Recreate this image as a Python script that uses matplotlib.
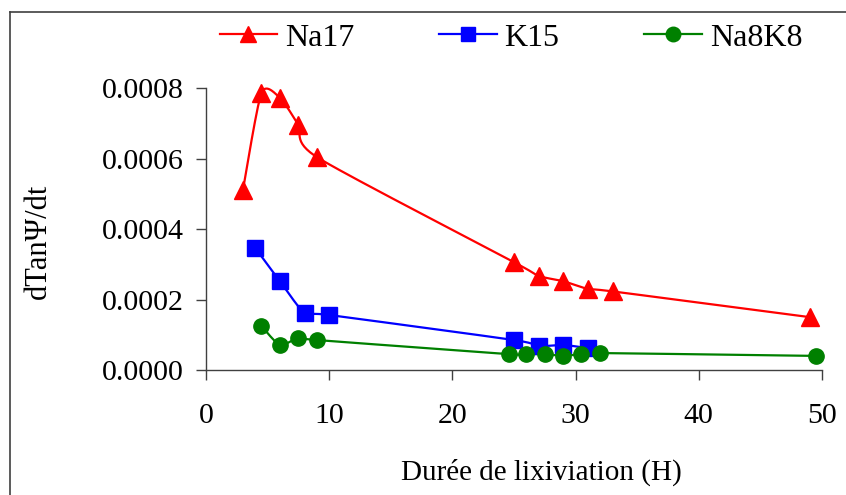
import numpy as np
import matplotlib
matplotlib.use("Agg")
import matplotlib.pyplot as plt
from matplotlib.lines import Line2D
from matplotlib.ticker import FormatStrFormatter

# values
na17_t = [3, 4.5, 6, 7.5, 9, 25, 27, 29, 31, 33, 49]
na17_v = [0.000511, 0.000786, 0.000772, 0.000695, 0.000604, 0.000306,
          0.000267, 0.000252, 0.000230, 0.000223, 0.000150]

k15_t = [4, 6, 8, 10, 25, 27, 29, 31]
k15_v = [0.000346, 0.000252, 0.000162, 0.000156, 0.000085, 0.000068,
         0.000071, 0.000062]

na8k8_t = [4.5, 6, 7.5, 9, 24.6, 26, 27.5, 29, 30.4, 32, 49.5]
na8k8_v = [0.000125, 0.000071, 0.000091, 0.000085, 0.000045, 0.000045,
           0.000045, 0.000040, 0.000045, 0.000048, 0.000040]

x_ticks = [0, 10, 20, 30, 40, 50]
y_ticks = [0.0, 0.0002, 0.0004, 0.0006, 0.0008]


def smooth(xs, ys, n=30, tension=0.3):
    """Cardinal spline through the points (like an Excel smoothed line)."""
    pts = np.column_stack([xs, ys]).astype(float)
    scale = np.array([1.0, 50.0 / 0.0008])  # work in roughly square units
    p = pts * scale
    p = np.vstack([p[0], p, p[-1]])
    t = np.linspace(0, 1, n)[:, None]
    h00 = 2 * t ** 3 - 3 * t ** 2 + 1
    h10 = t ** 3 - 2 * t ** 2 + t
    h01 = -2 * t ** 3 + 3 * t ** 2
    h11 = t ** 3 - t ** 2
    out = []
    for i in range(1, len(p) - 2):
        m1 = (1 - tension) * (p[i + 1] - p[i - 1]) / 2
        m2 = (1 - tension) * (p[i + 2] - p[i]) / 2
        out.append(h00 * p[i] + h10 * m1 + h01 * p[i + 1] + h11 * m2)
    c = np.vstack(out) / scale
    return c[:, 0], c[:, 1]


plt.rcParams['font.family'] = ['Liberation Serif', 'DejaVu Serif']
plt.rcParams['font.size'] = 21

fig = plt.figure(figsize=(8.46, 4.95), dpi=100)
ax = fig.add_axes([206 / 846, 1 - 370 / 495, (822 - 206) / 846, (370 - 88) / 495])

series = [
    (na17_t, na17_v, '#FF0000', '^', 12.5, 'Na17'),
    (k15_t, k15_v, '#0000FF', 's', 11, 'K15'),
    (na8k8_t, na8k8_v, '#008000', 'o', 11, 'Na8K8'),
]
handles = []
for t, v, col, mk, ms, name in series:
    sx, sy = smooth(t, v)
    ax.plot(sx, sy, color=col, lw=1.6, clip_on=False, zorder=2)
    ax.plot(t, v, linestyle='none', marker=mk, ms=ms, color=col,
            mec=col, clip_on=False, zorder=3)
    handles.append(Line2D([], [], color=col, lw=1.6, marker=mk, ms=ms * 0.95,
                          mec=col, label=name))

ax.set_xlim(0, 50)
ax.set_ylim(0, 0.0008)
ax.set_xticks(x_ticks)
ax.set_yticks(y_ticks)
ax.yaxis.set_major_formatter(FormatStrFormatter('%.4f'))
for s in ['top', 'right']:
    ax.spines[s].set_visible(False)
for s in ['left', 'bottom']:
    ax.spines[s].set_color('#404040')
    ax.spines[s].set_linewidth(1.0)
ax.tick_params(direction='out', length=7, width=1.0, color='#404040',
               labelsize=21.5)
ax.tick_params(axis='y', pad=9)
ax.tick_params(axis='x', pad=17)

fig.text(38 / 846, 1 - 241 / 495, 'dTanΨ/dt', rotation=90,
         ha='center', va='center', fontsize=22)
fig.text(541 / 846, 1 - 472 / 495, 'Durée de lixiviation (H)',
         ha='center', va='center', fontsize=21)

fig.legend(handles=handles, loc='center', bbox_to_anchor=(511 / 846, 1 - 38 / 495),
           ncol=3, frameon=False, fontsize=23, handlelength=1.8,
           handletextpad=0.25, columnspacing=2.65, borderaxespad=0,
           borderpad=0)

# chart area border (only top and left edges are visible in the crop)
top_y = 1 - 12 / 495
left_x = 10 / 846
fig.add_artist(Line2D([left_x, 1.0], [top_y, top_y], color='#404040', lw=1.2,
                      transform=fig.transFigure))
fig.add_artist(Line2D([left_x, left_x], [0, top_y], color='#404040', lw=1.2,
                      transform=fig.transFigure))

fig.savefig('out.png', dpi=100)
